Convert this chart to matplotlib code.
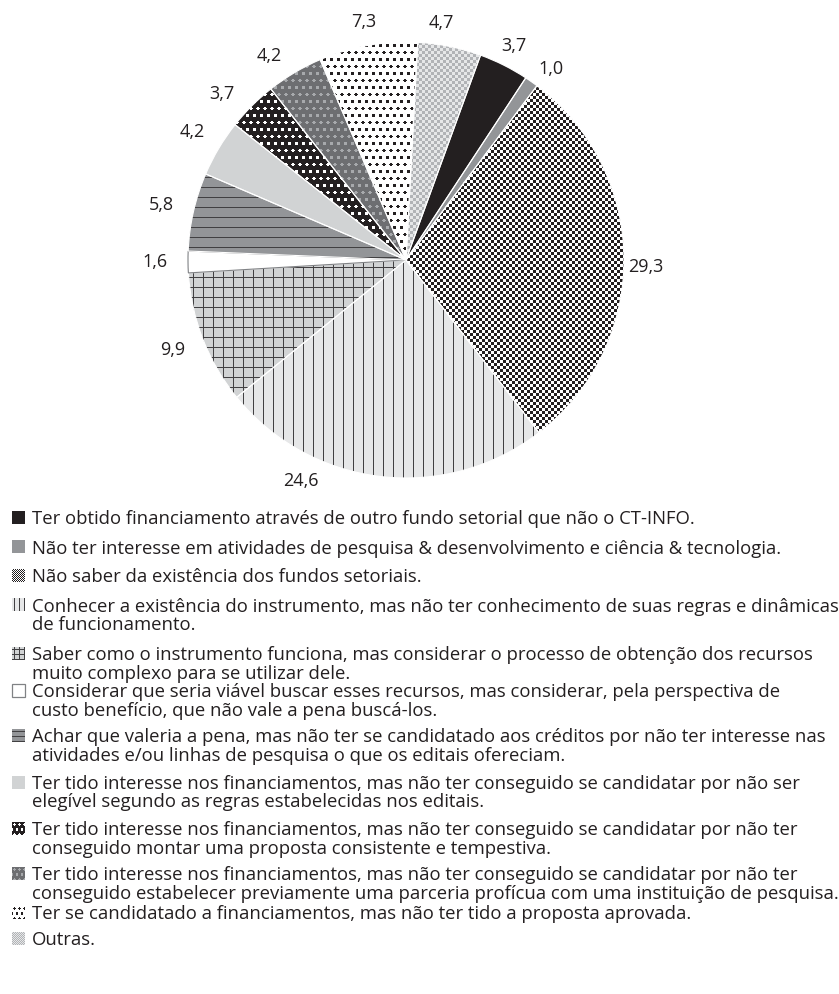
import numpy as np
import matplotlib
matplotlib.use("Agg")
import matplotlib.pyplot as plt
from matplotlib.colors import to_rgb
from matplotlib.patches import Rectangle

plt.rcParams['font.family'] = ['Open Sans', 'DejaVu Sans']

# percentages, in legend order (clockwise round the pie)
values = [3.7, 1.0, 29.3, 24.6, 9.9, 1.6, 5.8, 4.2, 3.7, 4.2, 7.3, 4.7]
value_labels = ["3,7", "1,0", "29,3", "24,6", "9,9", "1,6",
                "5,8", "4,2", "3,7", "4,2", "7,3", "4,7"]
reasons = [
    "Ter obtido financiamento através de outro fundo setorial que não o CT-INFO.",
    "Não ter interesse em atividades de pesquisa & desenvolvimento e ciência & tecnologia.",
    "Não saber da existência dos fundos setoriais.",
    "Conhecer a existência do instrumento, mas não ter conhecimento de suas regras e dinâmicas\n"
    "de funcionamento.",
    "Saber como o instrumento funciona, mas considerar o processo de obtenção dos recursos\n"
    "muito complexo para se utilizar dele.",
    "Considerar que seria viável buscar esses recursos, mas considerar, pela perspectiva de\n"
    "custo benefício, que não vale a pena buscá-los.",
    "Achar que valeria a pena, mas não ter se candidatado aos créditos por não ter interesse nas\n"
    "atividades e/ou linhas de pesquisa o que os editais ofereciam.",
    "Ter tido interesse nos financiamentos, mas não ter conseguido se candidatar por não ser\n"
    "elegível segundo as regras estabelecidas nos editais.",
    "Ter tido interesse nos financiamentos, mas não ter conseguido se candidatar por não ter\n"
    "conseguido montar uma proposta consistente e tempestiva.",
    "Ter tido interesse nos financiamentos, mas não ter conseguido se candidatar por não ter\n"
    "conseguido estabelecer previamente uma parceria profícua com uma instituição de pesquisa.",
    "Ter se candidatado a financiamentos, mas não ter tido a proposta aprovada.",
    "Outras.",
]

INK = "#231f20"
# fill of each slice: (kind, background, foreground, step in px)
patterns = [
    ("solid", INK, None, 0),
    ("solid", "#939598", None, 0),
    ("checker", "#ffffff", INK, 3),
    ("vlines", "#e6e7e8", "#414042", 10),
    ("grid", "#d1d3d4", "#414042", 10),
    ("solid", "#ffffff", None, 0),
    ("hlines", "#939598", "#414042", 10),
    ("solid", "#d1d3d4", None, 0),
    ("dots", INK, "#ffffff", 7),
    ("dots", "#6d6e71", "#a7a9ac", 7),
    ("dots", "#ffffff", INK, 7),
    ("checker", "#e6e7e8", "#b1b3b6", 3),
]


def texture(kind, bg, fg, step, n):
    img = np.empty((n, n, 3))
    img[:] = to_rgb(bg)
    if kind == "solid":
        return img
    yy, xx = np.indices((n, n))
    if kind == "checker":
        mask = (xx // step + yy // step) % 2 == 1
    elif kind == "vlines":
        mask = xx % step == step // 2
    elif kind == "hlines":
        mask = yy % step == step // 2
    elif kind == "grid":
        mask = (xx % step == step // 2) | (yy % step == step // 2)
    else:  # staggered dots
        row = yy // step
        dx = (xx + (row % 2) * step / 2) % step - step / 2 + 0.5
        dy = yy % step - step / 2 + 0.5
        mask = dx ** 2 + dy ** 2 <= (step * 0.24) ** 2
    img[mask] = to_rgb(fg)
    return img


W, H = 839, 994
fig = plt.figure(figsize=(W / 100, H / 100), dpi=100)

# legend drawn in pixel coordinates
lax = fig.add_axes([0, 0, 1, 1])
lax.patch.set_visible(False)
lax.axis("off")

# pie
cx, cy, r = 406, 260, 218
ax = fig.add_axes([(cx - r) / W, 1 - (cy + r) / H, 2 * r / W, 2 * r / H])
wedges, _ = ax.pie(values, startangle=70, counterclock=False, radius=1,
                   colors=["none"] * len(values),
                   wedgeprops=dict(edgecolor="white", linewidth=0.8))
for w, (kind, bg, fg, step) in zip(wedges, patterns):
    im = ax.imshow(texture(kind, bg, fg, step, 2 * r), extent=(-1, 1, -1, 1),
                   interpolation="nearest", zorder=1)
    im.set_clip_path(w)
    w.set_zorder(2)
wedges[5].set_edgecolor("#808285")
ax.set_xlim(-1, 1)
ax.set_ylim(-1, 1)
ax.axis("off")

# value labels outside the slices (24,6 is pushed left as in the original)
label_shift = [0, -2, -2, -18.7, 0, 0, 0, 0, 3, 3, 0, 3]
for w, txt, sh in zip(wedges, value_labels, label_shift):
    ang = np.deg2rad((w.theta1 + w.theta2) / 2 + sh)
    dist = 1.10 + 0.05 * max(0.0, -np.cos(ang))
    ax.text(dist * np.cos(ang), dist * np.sin(ang), txt, ha="center",
            va="center", fontsize=13, color=INK)

# legend
baselines = [524, 553.5, 582.5, 611.5, 660, 697.3, 742, 788.7, 835.3, 880.3, 918.7, 945.3]
line_step = 18.7
sw = 13
texts = []
for i, reason in enumerate(reasons):
    y0 = baselines[i]
    for k, line in enumerate(reason.split("\n")):
        texts.append(lax.text(32, y0 + k * line_step, line, ha="left",
                              va="baseline", fontsize=12, color=INK))
    kind, bg, fg, step = patterns[i]
    if kind == "dots":
        sstep = 5
    else:
        sstep = max(1, step // 2 - (1 if kind == "checker" else 0))
    lax.imshow(texture(kind, bg, fg, sstep, sw), extent=(12, 12 + sw, y0, y0 - sw),
               interpolation="nearest", aspect="auto")
    if i == 5:
        lax.add_patch(Rectangle((12, y0 - sw), sw, sw, facecolor="none",
                                edgecolor="#808285", linewidth=0.9))
lax.set_xlim(0, W)
lax.set_ylim(H, 0)

# fit legend text width to the original (longest line ends near x = 832)
fig.canvas.draw()
widest = max(t.get_window_extent().width for t in texts)
for t in texts:
    t.set_fontsize(12 * 800 / widest)

fig.savefig("out.png", dpi=100)
